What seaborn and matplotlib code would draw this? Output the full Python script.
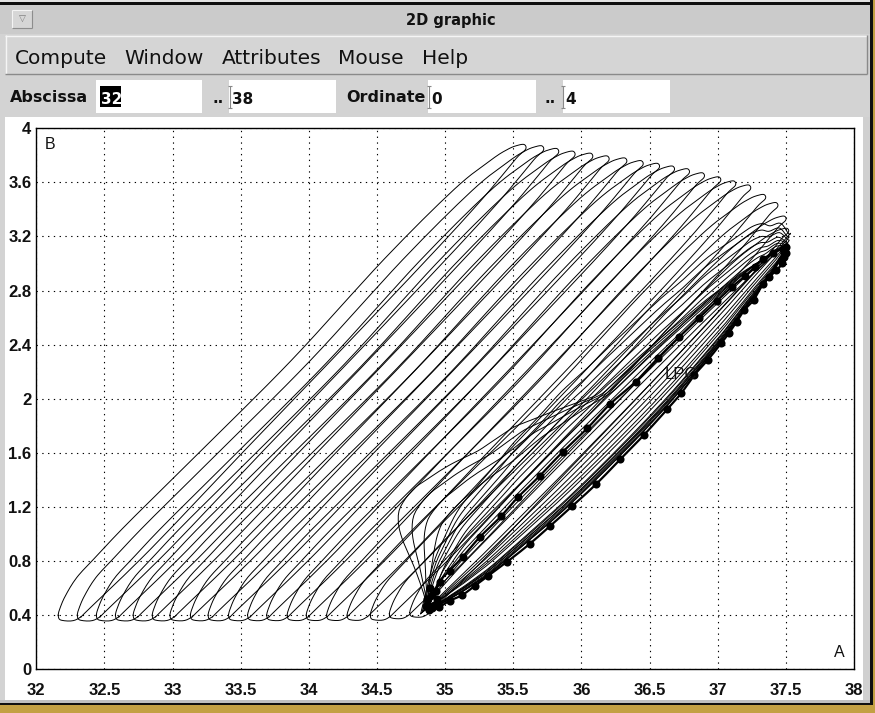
import numpy as np
import pandas as pd
import matplotlib
matplotlib.use("Agg")
import matplotlib.pyplot as plt
from matplotlib.patches import Rectangle
import seaborn as sns

# ---------------- texts ----------------
title_text = "2D graphic"
menu_items = ["Compute", "Window", "Attributes", "Mouse", "Help"]
field_labels = ["Abscissa", "Ordinate"]
field_values = ["32", "38", "0", "4"]
x_label = "A"
y_label = "B"
lpc_label = "LPC"

x_ticks = [32, 32.5, 33, 33.5, 34, 34.5, 35, 35.5, 36, 36.5, 37, 37.5, 38]
x_tick_labels = ["32", "32.5", "33", "33.5", "34", "34.5", "35", "35.5", "36", "36.5", "37", "37.5", "38"]
y_ticks = [0, 0.4, 0.8, 1.2, 1.6, 2, 2.4, 2.8, 3.2, 3.6, 4]
y_tick_labels = ["0", "0.4", "0.8", "1.2", "1.6", "2", "2.4", "2.8", "3.2", "3.6", "4"]

# ---------------- big family of cycles (anchors) ----------------
big_tip_A = [32.16, 32.30, 32.44, 32.58, 32.71, 32.85, 32.98, 33.13, 33.26, 33.41,
             33.55, 33.69, 33.84, 33.98, 34.13, 34.28, 34.45, 34.59, 34.74]
big_tip_B = [0.40, 0.40, 0.40, 0.40, 0.40, 0.40, 0.40, 0.40, 0.40, 0.40,
             0.40, 0.40, 0.40, 0.40, 0.40, 0.40, 0.40, 0.41, 0.42]
big_top_A = [35.58, 35.71, 35.82, 35.94, 36.07, 36.19, 36.32, 36.44, 36.56, 36.67,
             36.78, 36.89, 37.01, 37.12, 37.23, 37.34, 37.43, 37.49, 37.51]
big_top_B = [3.88, 3.87, 3.85, 3.83, 3.815, 3.795, 3.78, 3.76, 3.74, 3.72,
             3.70, 3.67, 3.64, 3.61, 3.58, 3.51, 3.45, 3.35, 3.26]

# leaf outline of one big cycle, normalised between its tip and its top
leaf_s = [0.000, 0.005, 0.030, 0.048, 0.065, 0.200, 0.400, 0.600, 0.800, 0.900, 0.955, 0.985, 1.003, 1.000,
          0.985, 0.965, 0.930, 0.850, 0.700, 0.500, 0.300, 0.150, 0.080, 0.040, 0.015, 0.003, 0.000]
leaf_t = [0.000, -0.010, -0.012, -0.004, 0.012, 0.142, 0.350, 0.556, 0.765, 0.873, 0.937, 0.973, 0.990, 1.000,
          0.998, 0.990, 0.968, 0.905, 0.757, 0.541, 0.343, 0.196, 0.123, 0.080, 0.040, 0.012, 0.000]

# ---------------- LPC cycle (dots) ----------------
lpc_low_A = [34.874, 34.955, 35.033, 35.126, 35.216, 35.314, 35.456, 35.619, 35.773, 35.933, 36.109, 36.285,
             36.458, 36.629, 36.732, 36.829, 36.927, 37.025, 37.081, 37.139, 37.196, 37.264, 37.330, 37.379,
             37.428, 37.472]
lpc_low_B = [0.463, 0.463, 0.507, 0.549, 0.616, 0.690, 0.796, 0.926, 1.062, 1.207, 1.370, 1.553,
             1.732, 1.922, 2.041, 2.176, 2.287, 2.410, 2.484, 2.570, 2.657, 2.731, 2.847, 2.898,
             2.952, 3.002]
lpc_top = [37.46, 3.10]
lpc_up_A = [34.960, 35.033, 35.130, 35.253, 35.412, 35.534, 35.693, 35.864, 36.043, 36.211, 36.397, 36.560,
            36.719, 36.866, 36.993, 37.106, 37.201, 37.275, 37.330, 37.404]
lpc_up_B = [0.648, 0.729, 0.833, 0.976, 1.133, 1.272, 1.429, 1.609, 1.782, 1.962, 2.126, 2.300,
            2.459, 2.600, 2.723, 2.829, 2.908, 2.977, 3.031, 3.076]
lpc_blob_A = [34.86, 34.88, 34.90, 34.92, 34.87, 34.90, 34.94, 34.89, 34.93, 37.47, 37.49, 37.50, 37.48, 37.50]
lpc_blob_B = [0.47, 0.44, 0.45, 0.47, 0.52, 0.55, 0.52, 0.60, 0.58, 3.03, 3.05, 3.08, 3.11, 3.12]
lpc_label_pos = [36.85, 2.176]

# ---------------- inner bundle of cycles near the LPC ----------------
inner_tip_A = [34.86, 34.87, 34.87, 34.88, 34.88, 34.89, 34.85, 34.84, 34.83, 34.82]
inner_tip_B = [0.46, 0.46, 0.47, 0.47, 0.48, 0.48, 0.44, 0.43, 0.42, 0.41]
inner_top_A = [37.46, 37.47, 37.48, 37.48, 37.49, 37.50, 37.50, 37.51, 37.51, 37.52]
inner_top_B = [3.10, 3.11, 3.12, 3.13, 3.14, 3.15, 3.16, 3.18, 3.20, 3.22]
inner_up = [0.4, 0.8, 1.2, 1.6, 2.0, 2.4, 2.8, 3.2, 3.6, 4.0]
inner_low = [0.95, 0.90, 0.85, 0.75, 0.65, 0.55, 0.45, 0.35, 0.25, 0.15]

# outer "lobe" cycle upper branch (top -> tip)
lobe_A = [37.45, 37.20, 36.90, 36.50, 36.10, 35.80, 35.50, 35.25, 35.01, 34.89, 34.76, 34.67, 34.65,
          34.67, 34.72, 34.78, 34.83, 34.86, 34.87]
lobe_B = [3.10, 2.95, 2.72, 2.38, 2.02, 1.91, 1.79, 1.62, 1.50, 1.42, 1.33, 1.21, 1.12,
          1.00, 0.88, 0.74, 0.60, 0.50, 0.46]
lobe_f = [1.0, 0.82, 0.65, 0.48]
lobe_low_f = [0.93, 0.87, 0.82, 0.77]


# ---------------- helpers ----------------
def smooth(xs, ys, k=6):
    p = np.column_stack([xs, ys]).astype(float)
    p = np.vstack([p[0], p, p[-1]])
    out = []
    for i in range(1, len(p) - 2):
        p0, p1, p2, p3 = p[i - 1], p[i], p[i + 1], p[i + 2]
        for tt in np.linspace(0, 1, k, endpoint=False):
            t2 = tt * tt
            t3 = t2 * tt
            out.append(0.5 * ((2 * p1) + (-p0 + p2) * tt + (2 * p0 - 5 * p1 + 4 * p2 - p3) * t2
                              + (-p0 + 3 * p1 - 3 * p2 + p3) * t3))
    out.append(p[-2])
    out = np.array(out)
    return out[:, 0], out[:, 1]


def resample(xs, ys, n):
    xs = np.asarray(xs, float)
    ys = np.asarray(ys, float)
    d = np.r_[0, np.cumsum(np.hypot(np.diff(xs), np.diff(ys)))]
    d /= d[-1]
    u = np.linspace(0, 1, n)
    return np.interp(u, d, xs), np.interp(u, d, ys)


def soften(v, w=5):
    v = np.asarray(v, float)
    pad = w // 2
    vp = np.r_[np.full(pad, v[0]), v, np.full(pad, v[-1])]
    out = np.convolve(vp, np.ones(w) / w, mode="valid")
    out[0] = v[0]
    out[-1] = v[-1]
    return out


rows = []
cid = 0

# big cycles
ls, lt = smooth(leaf_s, leaf_t, 8)
for ta, tb, pa, pb in zip(big_tip_A, big_tip_B, big_top_A, big_top_B):
    A = ta + ls * (pa - ta)
    B = tb + lt * (pb - tb)
    for o, (a, b) in enumerate(zip(A, B)):
        rows.append((cid, o, a, b))
    cid += 1

# LPC normalised template
tipA, tipB = lpc_low_A[0], lpc_low_B[0]
topA, topB = lpc_top
lowA = np.array(lpc_low_A + [topA])
lowB = np.array(lpc_low_B + [topB])
upA = np.array([topA] + lpc_up_A[::-1] + [tipA])
upB = np.array([topB] + lpc_up_B[::-1] + [tipB])
low_s = (lowA - tipA) / (topA - tipA)
low_t = (lowB - tipB) / (topB - tipB)
up_s = (upA - tipA) / (topA - tipA)
up_t = (upB - tipB) / (topB - tipB)
low_d = soften(low_t - low_s, 5)
up_d = soften(up_t - up_s, 5)

for ta, tb, pa, pb, fu, fl in zip(inner_tip_A, inner_tip_B, inner_top_A, inner_top_B, inner_up, inner_low):
    s = np.r_[low_s, up_s[1:]]
    t = np.r_[low_s + fl * low_d, up_s[1:] + fu * up_d[1:]]
    ss, tt = smooth(s, t, 5)
    A = ta + ss * (pa - ta)
    B = tb + tt * (pb - tb)
    for o, (a, b) in enumerate(zip(A, B)):
        rows.append((cid, o, a, b))
    cid += 1

# lobe cycles
n_up = 40
lupA, lupB = resample(upA, upB, n_up)
lobA, lobB = resample(lobe_A, lobe_B, n_up)
for f, fl in zip(lobe_f, lobe_low_f):
    lb_ = tipB + (topB - tipB) * (low_s + fl * low_d)
    ua = lupA + f * (lobA - lupA)
    ub = lupB + f * (lobB - lupB)
    A = np.r_[lowA, ua[1:]]
    B = np.r_[lb_, ub[1:]]
    A, B = smooth(A, B, 3)
    for o, (a, b) in enumerate(zip(A, B)):
        rows.append((cid, o, a, b))
    cid += 1

df = pd.DataFrame(rows, columns=["cycle", "order", "A", "B"])

# LPC line and dots
lpc_line_A = np.r_[lpc_low_A, topA, lpc_up_A[::-1], lpc_low_A[0]]
lpc_line_B = np.r_[lpc_low_B, topB, lpc_up_B[::-1], lpc_low_B[0]]
la_s, lb_s = smooth(lpc_line_A, lpc_line_B, 5)
lpc_line = pd.DataFrame({"A": la_s, "B": lb_s, "o": np.arange(len(la_s))})
lpc_dots = pd.DataFrame({"A": np.r_[lpc_low_A, lpc_up_A, lpc_blob_A],
                         "B": np.r_[lpc_low_B, lpc_up_B, lpc_blob_B]})

# ---------------- figure ----------------
sns.set_theme(style="white")
plt.rcParams["font.family"] = ["DejaVu Sans"]

W, H = 875, 713
fig = plt.figure(figsize=(W / 100, H / 100), dpi=100)
bg = fig.add_axes([0, 0, 1, 1], zorder=0)
bg.set_xlim(0, W)
bg.set_ylim(H, 0)
bg.axis("off")


def rect(x0, y0, x1, y1, color):
    bg.add_patch(Rectangle((x0, y0), x1 - x0, y1 - y0, facecolor=color, edgecolor="none"))


def hline(x0, x1, y, color, lw=1.0):
    bg.plot([x0, x1], [y, y], color=color, lw=lw, solid_capstyle="butt")


def vline(x, y0, y1, color, lw=1.0):
    bg.plot([x, x], [y0, y1], color=color, lw=lw, solid_capstyle="butt")


rect(0, 0, W, H, "#d3d3d3")
rect(0, 0, W, 2, "#e2e2e2")
rect(0, 2, 872, 4.5, "#0e0e0e")
rect(0, 5, 870, 33.5, "#cbcbcb")
# title button
rect(12, 10, 32, 28, "#d6d6d6")
hline(12, 32, 10.3, "#f4f4f4", 0.8)
vline(12.3, 10, 28, "#f4f4f4", 0.8)
hline(12, 32, 27.7, "#8d8d8d", 0.8)
vline(31.7, 10, 28, "#8d8d8d", 0.8)
bg.text(22, 19, "\u25BD", ha="center", va="center", fontsize=6.5, color="#7a7a7a")
bg.text(451, 20, title_text, ha="center", va="center", fontsize=10.5, fontweight="bold", color="#111111")

# menu bar
rect(5, 35, 867, 74, "#d5d5d5")
hline(5, 867, 35.5, "#f5f5f5", 1.0)
vline(5.5, 35, 74, "#f5f5f5", 1.0)
hline(5, 867, 73.5, "#8a8a8a", 1.0)
vline(866.5, 35, 74, "#8a8a8a", 1.0)
menu_x = [15, 124, 222, 338, 422]
for word, x in zip(menu_items, menu_x):
    bg.text(x, 63.5, word, ha="left", va="baseline", fontsize=14.5, color="#111111")

# field row
bg.text(10, 101.5, field_labels[0], ha="left", va="baseline", fontsize=11.5, fontweight="bold", color="#111111")
bg.text(346, 101.5, field_labels[1], ha="left", va="baseline", fontsize=11.5, fontweight="bold", color="#111111")
boxes = [(96, 202), (229, 336), (428, 536), (563, 670)]
for x0, x1 in boxes:
    rect(x0, 80, x1, 113, "white")
for x in [212, 544]:
    bg.text(x, 103, "..", ha="left", va="baseline", fontsize=11, fontweight="bold", color="#111111")
rect(100, 86, 121, 107, "black")
val_x = [100.5, 232, 431, 565]
for i, (v, x) in enumerate(zip(field_values, val_x)):
    bg.text(x, 104, v, ha="left", va="baseline", fontsize=11, fontweight="bold",
            color="white" if i == 0 else "#111111")
for x in [230, 429, 563]:
    vline(x, 86, 108, "#8a8a8a", 0.8)
    hline(x - 2, x + 2, 86, "#8a8a8a", 0.8)
    hline(x - 2, x + 2, 108, "#8a8a8a", 0.8)

# plot area and frame
rect(5, 117, 863, 700, "white")
rect(863, 117, 870, 702, "#d0d0d0")
rect(0, 700, 872, 702.5, "#bfbfbf")
rect(0, 702.5, 872, 704.8, "#101010")
rect(0, 704.8, W, H, "#c3a043")
rect(870, 0, 872.5, 704.8, "#101010")
rect(872.5, 0, W, H, "#c3a043")

# ---------------- main axes ----------------
x0p, x1p, y0p, y1p = 36.3, 854.0, 128.3, 669.3
ax = fig.add_axes([x0p / W, (H - y1p) / H, (x1p - x0p) / W, (y1p - y0p) / H], zorder=2)
ax.set_facecolor("white")

sns.lineplot(data=df, x="A", y="B", units="cycle", estimator=None, sort=False,
             color="black", linewidth=0.7, ax=ax, legend=False)
sns.lineplot(data=lpc_line, x="A", y="B", estimator=None, sort=False,
             color="black", linewidth=1.6, ax=ax, legend=False)
sns.scatterplot(data=lpc_dots, x="A", y="B", color="black", s=34, edgecolor="black",
                linewidth=0, ax=ax, legend=False, zorder=5)

ax.text(lpc_label_pos[0], lpc_label_pos[1], lpc_label, ha="right", va="center",
        fontsize=12, family="Liberation Sans", color="#111111", zorder=6)

ax.set_xlim(32, 38)
ax.set_ylim(0, 4)
ax.set_xticks(x_ticks)
ax.set_xticklabels(x_tick_labels)
ax.set_yticks(y_ticks)
ax.set_yticklabels(y_tick_labels)
for lab in ax.get_xticklabels() + ax.get_yticklabels():
    lab.set_fontfamily("Liberation Sans")
    lab.set_fontweight("bold")
    lab.set_fontsize(12)
    lab.set_color("#111111")
ax.tick_params(axis="both", direction="in", length=6.5, width=1, color="black")
ax.tick_params(axis="x", pad=10)
ax.tick_params(axis="y", pad=3.5)
ax.set_xlabel("")
ax.set_ylabel("")
ax.grid(True, color="black", linestyle=(0, (1.2, 4)), linewidth=0.8)
ax.set_axisbelow(True)
for sp in ax.spines.values():
    sp.set_color("black")
    sp.set_linewidth(1.0)
    sp.set_visible(True)

ax.text(0.0105, 0.983, y_label, transform=ax.transAxes, ha="left", va="top",
        fontsize=11.5, family="Liberation Sans", color="#111111")
ax.text(0.988, 0.018, x_label, transform=ax.transAxes, ha="right", va="bottom",
        fontsize=11.5, family="Liberation Sans", color="#111111")

fig.savefig("out.png", dpi=100)
